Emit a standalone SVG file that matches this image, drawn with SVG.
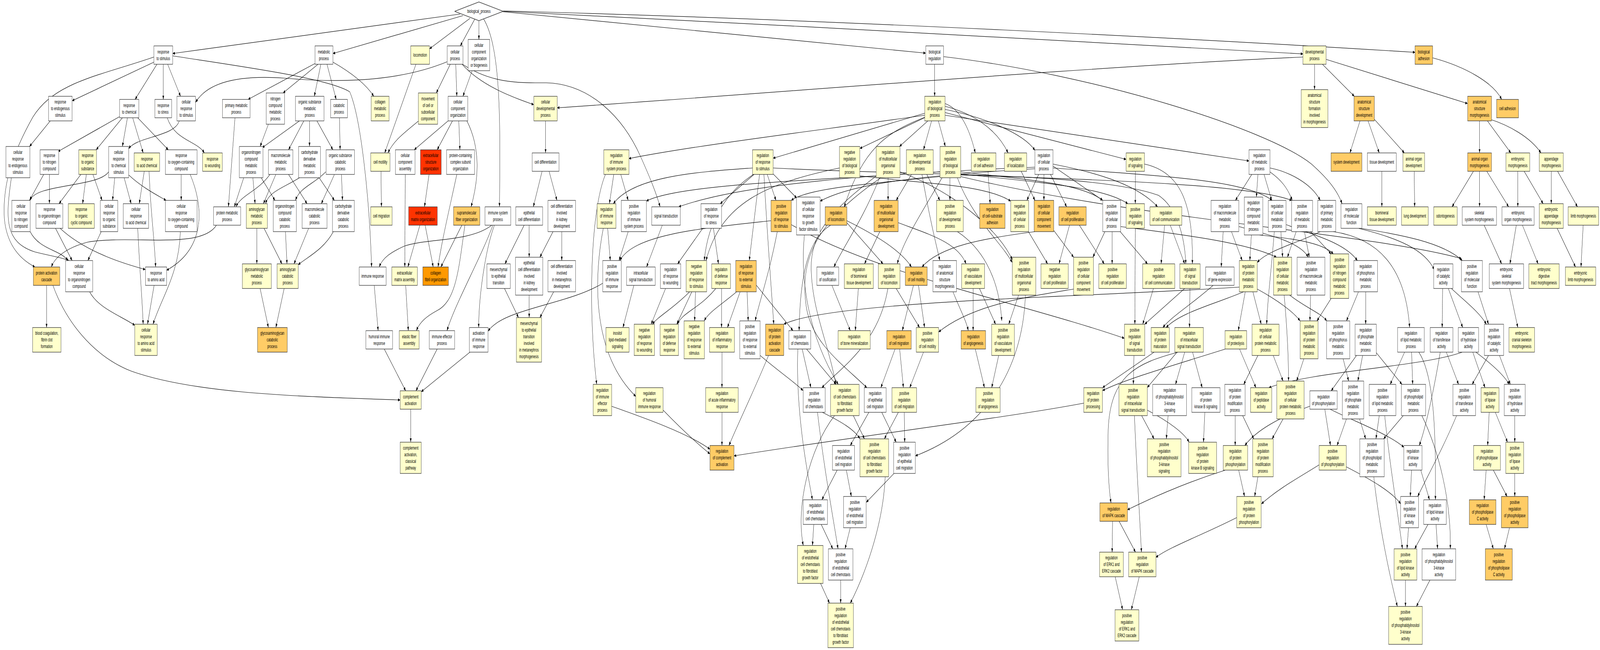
<svg xmlns="http://www.w3.org/2000/svg" width="7320" height="1664" viewBox="0 0 7320 1664" preserveAspectRatio="none">
<defs>
<style>
svg:root{width:100vw;height:100vh;display:block}
.w,.y,.o,.or,.r{stroke:#333;stroke-width:1.3}
.w{fill:#ffffff}.y{fill:#ffffcc}.o{fill:#ffcc66}.or{fill:#ff9900}.r{fill:#ff3300}
text{font-family:"Liberation Sans",Arial,sans-serif;font-size:13px;text-anchor:middle;fill:#000}
#edges path{fill:none;stroke:#000;stroke-width:1.2;marker-end:url(#a)}
</style>
<marker id="a" viewBox="0 0 10 8" refX="10" refY="4" markerWidth="10" markerHeight="8" markerUnits="userSpaceOnUse" orient="auto"><path d="M0,0L10,4L0,8z" fill="#000"/></marker>
</defs>
<rect x="0" y="0" width="7320" height="1664" fill="#fff"/>
<g id="edges">
<path d="M2105,36 L790,137"/>
<path d="M2118,40 L1523,137"/>
<path d="M2150,47 L1965,125"/>
<path d="M2172,49 L2106,117.5"/>
<path d="M2191,53 L2191,101"/>
<path d="M2212,48 C2290,120 2290,300 2285,529.5"/>
<path d="M2300,30 L4235,136"/>
<path d="M2302,29 C3500,60 5000,110 5961,138"/>
<path d="M2302,28 C3800,50 5500,100 6474,134"/>
<path d="M712,157 L330,258"/>
<path d="M718,164.5 L618,254.5"/>
<path d="M747,164.5 L747,254.5"/>
<path d="M767,164.5 L826,246.5"/>
<path d="M704,146 C450,195 250,210 150,300 C60,390 10,470 20,560 C30,620 80,660 160,683.5"/>
<path d="M790,143 C1100,170 1500,200 1600,235 C1650,300 1690,500 1700,683.5"/>
<path d="M1450,160 L1135,254.5"/>
<path d="M1455,164.5 L1295,238"/>
<path d="M1468,164.5 L1438,246.5"/>
<path d="M1496,164.5 L1538,254.5"/>
<path d="M1520,158 C1620,190 1680,220 1710,246.5"/>
<path d="M2046,158 C1800,215 1500,210 1300,200 C1050,190 940,220 895,262"/>
<path d="M230,309.5 L135,375"/>
<path d="M549,298 L265,388"/>
<path d="M560,301.5 L440,383.5"/>
<path d="M583,301.5 L560,375"/>
<path d="M607,301.5 L655,391.5"/>
<path d="M630,301.5 L770,383.5"/>
<path d="M765,301.5 C800,360 900,360 935,391.5"/>
<path d="M820,309.5 C800,350 620,350 589,381"/>
<path d="M200,446.5 L135,513"/>
<path d="M226,446.5 L226,521.5"/>
<path d="M370,446.5 L270,521.5"/>
<path d="M395,446.5 L378,521.5"/>
<path d="M425,446.5 L467,513"/>
<path d="M497,440 C450,480 160,470 138,513"/>
<path d="M525,455 L515,513"/>
<path d="M568,455 L600,521.5"/>
<path d="M589,448 C650,480 720,500 760,513"/>
<path d="M660,438.5 L637,521.5"/>
<path d="M682,438.5 C690,550 705,600 712,683.5"/>
<path d="M829,446.5 L829,513"/>
<path d="M870,446.5 C940,540 930,640 762,692"/>
<path d="M138,593 C180,640 280,640 310,667"/>
<path d="M52,455 C25,560 20,620 160,645 C230,655 290,660 315,667"/>
<path d="M254,584.5 L330,667"/>
<path d="M275,584.5 C400,650 600,680 665,690"/>
<path d="M463,593 L402,667"/>
<path d="M410,747 C450,790 560,810 617,833"/>
<path d="M630,584.5 C640,700 650,760 655,830"/>
<path d="M705,730.5 L675,830"/>
<path d="M825,593 C820,700 740,760 700,830"/>
<path d="M1075,301.5 L1045,529.5"/>
<path d="M1228,318 L1190,375"/>
<path d="M1370,309.5 L1200,378"/>
<path d="M1390,309.5 L1320,383.5"/>
<path d="M1416,309.5 L1416,375"/>
<path d="M1450,309.5 L1523,383.5"/>
<path d="M1553,301.5 L1556,383.5"/>
<path d="M1115,455 L1072,529.5"/>
<path d="M1235,446.5 C1180,490 1100,500 1080,529.5"/>
<path d="M1157,455 L1167,521.5"/>
<path d="M1262,446.5 L1205,521.5"/>
<path d="M1370,455 C1300,480 1230,490 1215,521.5"/>
<path d="M1195,455 L1258,513"/>
<path d="M1320,446.5 L1405,521.5"/>
<path d="M1460,455 L1530,513"/>
<path d="M1490,440 C1440,470 1370,480 1352,513"/>
<path d="M1530,446.5 L1470,521.5"/>
<path d="M1562,446.5 L1567,513"/>
<path d="M990,576.5 C920,640 600,600 400,620 C300,635 250,660 235,683.5"/>
<path d="M1175,584.5 L1175,675.5"/>
<path d="M1208,584.5 L1290,675.5"/>
<path d="M1306,593 L1313,675.5"/>
<path d="M1412,584.5 L1345,675.5"/>
<path d="M1525,593 C1480,640 1400,660 1364,678"/>
<path d="M1190,738.5 L1228,838.5"/>
<path d="M1300,738.5 L1262,838.5"/>
<path d="M213,730.5 L213,838.5"/>
<path d="M242,730.5 C300,820 420,910 600,950 C900,1010 1400,1015 1831,1024"/>
<path d="M1712,730.5 L1730,846.5"/>
<path d="M2250,576.5 C2150,620 1950,610 1850,630 C1790,645 1750,660 1735,683.5"/>
<path d="M1758,893.5 L1856,1000.5"/>
<path d="M2000,893.5 L1903,1000.5"/>
<path d="M2150,901.5 L1927,1003"/>
<path d="M1879,1047.5 L1879,1132"/>
<path d="M1743,438.5 L1745,529.5"/>
<path d="M1903,164.5 L1760,391.5"/>
<path d="M1914,310 C1850,340 1800,360 1775,391.5"/>
<path d="M2060,164.5 L1996,238"/>
<path d="M2085,164.5 L2090,246.5"/>
<path d="M2160,181 L2118,246.5"/>
<path d="M2110,162 C2200,220 2350,250 2442,268"/>
<path d="M2112,163 C2250,215 2380,212 2500,212 C2700,215 2850,300 2930,400 C2970,450 3000,490 3020,529.5"/>
<path d="M2050,309.5 L1895,383.5"/>
<path d="M2070,309.5 L2000,383.5"/>
<path d="M2099,309.5 L2104,383.5"/>
<path d="M2136,309.5 C2200,380 2190,460 2155,529.5"/>
<path d="M1963,446.5 L1942,529.5"/>
<path d="M1854,446.5 L1852,683.5"/>
<path d="M1921,576.5 L1866,683.5"/>
<path d="M1945,576.5 L1982,683.5"/>
<path d="M2113,576.5 L2017,683.5"/>
<path d="M2127,576.5 C2100,680 2090,770 2000,795 C1950,810 1920,825 1905,846.5"/>
<path d="M2090,446.5 C2050,550 2020,620 2004,683.5"/>
<path d="M1856,730.5 L1868,846.5"/>
<path d="M2496,309.5 L2496,391.5"/>
<path d="M5961,146 C5000,170 3500,240 2549,276"/>
<path d="M2480,438.5 L2440,529.5"/>
<path d="M2512,438.5 L2548,513"/>
<path d="M2398,576.5 L2310,675.5"/>
<path d="M2421,576.5 L2421,658.5"/>
<path d="M2530,593 L2470,658.5"/>
<path d="M2570,593 L2570,667"/>
<path d="M2308,738.5 L2372,813"/>
<path d="M2421,755.5 L2421,813"/>
<path d="M2533,747 L2470,813"/>
<path d="M2255,576.5 C2200,660 2080,780 2045,846.5"/>
<path d="M2262,576.5 C2220,640 2190,760 2190,838.5"/>
<path d="M2808,446.5 L2788,521.5"/>
<path d="M2840,446.5 L2874,513"/>
<path d="M2770,446.5 C2700,540 2690,800 2730,984"/>
<path d="M2780,584.5 L2792,667"/>
<path d="M2760,584.5 C2720,700 2700,900 2909,1015"/>
<path d="M2874,593 L2832,667"/>
<path d="M2758,725 C2600,780 2300,790 2233,848"/>
<path d="M3443,430 C3200,440 2900,450 2806,521.5"/>
<path d="M3527,565 C3200,585 2900,600 2836,667"/>
<path d="M2900,730.5 L2850,838.5"/>
<path d="M3030,576.5 L2958,683.5"/>
<path d="M2798,1040 C2950,1070 3150,1110 3248,1150"/>
<path d="M3034,1050 C3120,1100 3200,1140 3248,1162"/>
<path d="M3303,1055.5 L3303,1140.5"/>
<path d="M3516,910 C3450,1000 3380,1080 3335,1140.5"/>
<path d="M4959,1032 C4600,1070 4000,1110 3358,1167"/>
<path d="M4276,164.5 L4276,246.5"/>
<path d="M4317,145 C5000,190 5800,330 6000,420 C6080,460 6120,490 6140,521.5"/>
<path d="M4230,290 L3537,405"/>
<path d="M4235,300 L3934,380"/>
<path d="M4245,309.5 L4115,375"/>
<path d="M4262,309.5 L4225,383.5"/>
<path d="M4293,309.5 L4325,375"/>
<path d="M4230,295 C3800,330 3200,370 2877,406"/>
<path d="M4232,300 C4050,340 3950,380 3862,529.5"/>
<path d="M4323,265 C4400,280 4440,340 4462,391.5"/>
<path d="M4323,272 C4450,290 4560,330 4612,391.5"/>
<path d="M4323,280 C4500,300 4680,340 4735,385"/>
<path d="M4323,288 L5152,408"/>
<path d="M4323,295 L5714,412"/>
<path d="M3450,446.5 L3295,521.5"/>
<path d="M3510,446.5 L3550,513"/>
<path d="M3535,444 L3645,507"/>
<path d="M3447,446.5 C3330,490 3240,560 3222,667"/>
<path d="M3475,446.5 L3428,667"/>
<path d="M3495,446.5 C3510,600 3530,750 3540,830"/>
<path d="M3537,430 C4200,450 5000,440 5300,500 C5380,530 5420,600 5425,675.5"/>
<path d="M3841,430 C3500,470 3300,520 3230,667"/>
<path d="M3934,450 C4200,470 4500,470 4624,515"/>
<path d="M4395,440 C4700,460 4950,470 5045,513"/>
<path d="M4395,445 C4800,470 5050,480 5160,521.5"/>
<path d="M4300,452 C4000,470 3700,480 3620,513"/>
<path d="M4310,455 C4200,560 4130,620 4105,675.5"/>
<path d="M4346,455 L4346,513"/>
<path d="M4300,440 C3800,460 3100,470 2957,515"/>
<path d="M4380,455 C4450,560 4580,620 4631,672"/>
<path d="M4395,448 C5000,460 5700,470 5910,513"/>
<path d="M4395,452 C5200,560 6300,600 6686,662"/>
<path d="M4063,455 L4063,513"/>
<path d="M4118,440 C4400,500 4580,600 4631,665"/>
<path d="M4170,446.5 L4100,513"/>
<path d="M4240,446.5 L4300,513"/>
<path d="M4218,446.5 C4250,550 4280,620 4300,667"/>
<path d="M3556,593 C3520,700 3470,780 3455,821.5"/>
<path d="M3620,575 C4000,700 4700,780 5144,866"/>
<path d="M3800,576.5 C3700,610 3660,700 3656,846.5"/>
<path d="M3874,570 L4040,675.5"/>
<path d="M3874,565 C4000,600 4120,640 4170,683.5"/>
<path d="M4024,455 C3950,560 3860,630 3815,683.5"/>
<path d="M4025,593 L3955,675.5"/>
<path d="M4109,570 C4250,600 4380,620 4420,675.5"/>
<path d="M4360,747 C4390,790 4420,820 4430,846.5"/>
<path d="M3806,730.5 L3890,846.5"/>
<path d="M3927,738.5 L3913,846.5"/>
<path d="M4179,730.5 L4128,846.5"/>
<path d="M4202,730.5 L4230,838.5"/>
<path d="M4100,738.5 L4207,838.5"/>
<path d="M4062,738.5 C4020,880 3850,940 3760,992.5"/>
<path d="M4735,593 C4500,610 4300,630 4218,683.5"/>
<path d="M4912,740 C4700,760 4450,780 4294,850"/>
<path d="M4380,593 C4480,630 4570,700 4583,821.5"/>
<path d="M3370,747 C3300,780 3240,800 3222,821.5"/>
<path d="M3386,747 L3328,838.5"/>
<path d="M3418,747 L3423,821.5"/>
<path d="M3460,730 L3628,846.5"/>
<path d="M3215,584.5 L3100,675.5"/>
<path d="M3264,584.5 L3287,675.5"/>
<path d="M3155,747 C3080,790 3010,810 2985,830"/>
<path d="M3165,747 L3096,830"/>
<path d="M3182,747 L3178,821.5"/>
<path d="M3045,738.5 L2979,830"/>
<path d="M3275,738.5 C3200,790 3120,800 3100,830"/>
<path d="M3301,738.5 L3301,838.5"/>
<path d="M3303,901.5 L3303,992.5"/>
<path d="M3670,893.5 L3710,992.5"/>
<path d="M3478,910 C3560,950 3640,980 3674,1000"/>
<path d="M3690,893.5 L3825,984"/>
<path d="M3680,601 C3660,720 3700,860 3835,984"/>
<path d="M4030,455 C3760,560 3650,650 3690,790 C3720,880 3850,930 3966,992.5"/>
<path d="M4010,450 C3800,540 3700,600 3712,700 C3720,800 3790,880 3824,984"/>
<path d="M4095,893.5 L4030,992.5"/>
<path d="M4116,893.5 L4133,992.5"/>
<path d="M4225,901.5 L4162,992.5"/>
<path d="M3975,1055.5 L3890,1140.5"/>
<path d="M3904,1064 L3955,1123.5"/>
<path d="M3762,1055.5 C3850,1080 3910,1100 3934,1123.5"/>
<path d="M4110,1055.5 L4046,1123.5"/>
<path d="M4034,1055.5 L4100,1132"/>
<path d="M4137,1055.5 L4139,1132"/>
<path d="M4691,755.5 C4680,950 4500,1100 4188,1167"/>
<path d="M3830,1203.5 L3760,1279.5"/>
<path d="M3650,893.5 C3640,1050 3690,1200 3717,1279.5"/>
<path d="M3872,1203.5 L3895,1271"/>
<path d="M4090,1212 L3963,1286"/>
<path d="M3723,1342.5 L3717,1396.5"/>
<path d="M3818,1064 C3700,1150 3640,1300 3675,1396.5"/>
<path d="M3757,1342.5 L3810,1405"/>
<path d="M3740,1055.5 C3770,1200 3810,1320 3834,1405"/>
<path d="M3890,1351 L3866,1405"/>
<path d="M3754,1493.5 L3795,1544"/>
<path d="M3846,1485 L3846,1544"/>
<path d="M4050,1220.5 C4040,1350 3950,1480 3890,1544"/>
<path d="M4520,438.5 L4530,521.5"/>
<path d="M4752,446.5 L4698,513"/>
<path d="M4776,446.5 L4776,513"/>
<path d="M4672,438.5 L4735,513"/>
<path d="M4806,446.5 L4880,529.5"/>
<path d="M4817,425 L5045,513"/>
<path d="M4817,420 C5000,440 5200,470 5296,529.5"/>
<path d="M4734,428 C4000,445 3400,470 3105,529.5"/>
<path d="M4817,430 C5300,450 5700,460 5820,513"/>
<path d="M4734,432 C4200,450 3900,470 3752,515"/>
<path d="M5194,438.5 L5194,521.5"/>
<path d="M5236,420 C5400,440 5460,520 5455,675.5"/>
<path d="M5727,446.5 L5652,513"/>
<path d="M5755,446.5 L5748,504.5"/>
<path d="M5783,446.5 L5818,513"/>
<path d="M5810,440 C5860,460 5890,480 5912,513"/>
<path d="M5810,430 C5900,440 6000,470 6040,513"/>
<path d="M5884,575 C6000,600 6150,620 6210,667"/>
<path d="M5328,576.5 L5312,675.5"/>
<path d="M5354,576.5 L5420,675.5"/>
<path d="M5125,593 L5250,675.5"/>
<path d="M5088,593 L5088,675.5"/>
<path d="M5055,593 L5000,658.5"/>
<path d="M5127,580 C5400,600 5700,620 5840,658.5"/>
<path d="M4893,576.5 L4845,675.5"/>
<path d="M4938,576.5 L5052,675.5"/>
<path d="M4705,593 L4793,675.5"/>
<path d="M4821,590 L4912,658.5"/>
<path d="M5596,593 L5587,683.5"/>
<path d="M5634,593 L5683,667"/>
<path d="M5725,601.5 L5718,667"/>
<path d="M6040,593 C5950,620 5800,640 5752,672"/>
<path d="M5668,580 C5800,600 5950,620 5985,658.5"/>
<path d="M5860,593 L5868,658.5"/>
<path d="M5930,593 L5890,658.5"/>
<path d="M5968,593 L5990,658.5"/>
<path d="M5996,593 L6090,650"/>
<path d="M5760,601.5 C5900,610 6050,620 6100,650"/>
<path d="M6100,593 C6300,610 6430,680 6449,838.5"/>
<path d="M6215,584.5 C6400,610 6520,640 6562,691"/>
<path d="M6225,584.5 C6400,600 6600,620 6690,667"/>
<path d="M5830,593 C5815,700 5800,760 5795,830"/>
<path d="M5690,747 C5550,780 5400,800 5335,838.5"/>
<path d="M5550,730.5 C5450,780 5360,810 5320,838.5"/>
<path d="M5444,738.5 L5442,838.5"/>
<path d="M5420,738.5 L5237,830"/>
<path d="M5194,584.5 L5192,830"/>
<path d="M5277,738.5 L5228,830"/>
<path d="M5697,747 L5665,846.5"/>
<path d="M5732,747 L5770,830"/>
<path d="M5670,735 C5000,760 3800,770 3586,830"/>
<path d="M5752,740 C5850,770 5920,800 5948,821.5"/>
<path d="M4452,738.5 L4452,846.5"/>
<path d="M4481,738.5 L4555,830"/>
<path d="M4660,755.5 L4615,830"/>
<path d="M4462,893.5 L4504,992.5"/>
<path d="M4569,910 L4537,992.5"/>
<path d="M5280,901.5 L5044,992.5"/>
<path d="M5606,893.5 C5400,930 5150,970 5044,1000"/>
<path d="M5385,901.5 L5249,992"/>
<path d="M5188,910 L5185,984"/>
<path d="M5420,901.5 L5378,984"/>
<path d="M5456,901.5 L5500,992.5"/>
<path d="M5755,910 L5690,984"/>
<path d="M5671,893.5 L5746,992.5"/>
<path d="M6690,901.5 C6500,940 6000,950 5805,992.5"/>
<path d="M5825,910 L5870,975.5"/>
<path d="M5965,918.5 L5932,975.5"/>
<path d="M5875,755.5 C5890,850 5895,920 5895,975.5"/>
<path d="M5344,1064 L5336,1123.5"/>
<path d="M5223,1064 L5280,1123.5"/>
<path d="M5512,1055.5 L5506,1132"/>
<path d="M5249,1050 C5350,1080 5420,1110 5440,1132"/>
<path d="M5651,1064 L5651,1140.5"/>
<path d="M5992,1040 C5850,1070 5750,1100 5695,1140.5"/>
<path d="M5685,1064 L5736,1123.5"/>
<path d="M5870,1072.5 L5820,1123.5"/>
<path d="M5606,1203.5 C5400,1240 5250,1280 5158,1305"/>
<path d="M5390,901.5 C5200,930 5080,960 5070,1100 C5065,1200 5075,1260 5083,1287.5"/>
<path d="M5667,1203.5 L5694,1271"/>
<path d="M5755,1220.5 L5740,1271"/>
<path d="M6035,1190 C5950,1220 5850,1250 5771,1290"/>
<path d="M5090,1334.5 L5088,1413.5"/>
<path d="M5120,1334.5 L5195,1413.5"/>
<path d="M5190,1064 C5200,1200 5215,1330 5222,1413.5"/>
<path d="M5658,1325 C5500,1370 5350,1400 5288,1427"/>
<path d="M5102,1476.5 L5136,1561"/>
<path d="M5212,1476.5 L5176,1561"/>
<path d="M6014,164.5 L6014,229.5"/>
<path d="M6050,164.5 L6196,246.5"/>
<path d="M6067,152 L6714,265"/>
<path d="M6554,148 C6700,170 6830,210 6870,254.5"/>
<path d="M6222,309.5 L6176,391.5"/>
<path d="M6259,309.5 L6310,391.5"/>
<path d="M6287,305 L6425,391.5"/>
<path d="M6769,309.5 L6769,391.5"/>
<path d="M6805,309.5 L6912,391.5"/>
<path d="M6815,305 C6900,320 7000,350 7050,391.5"/>
<path d="M6322,438.5 L6322,529.5"/>
<path d="M6470,438.5 L6472,529.5"/>
<path d="M6741,438.5 L6643,529.5"/>
<path d="M6769,438.5 L6769,529.5"/>
<path d="M6802,438.5 L6902,529.5"/>
<path d="M6944,438.5 L6944,529.5"/>
<path d="M6973,438.5 L7060,521.5"/>
<path d="M7097,438.5 L7097,521.5"/>
<path d="M7126,438.5 L7217,529.5"/>
<path d="M6790,576.5 L6870,675.5"/>
<path d="M6937,576.5 L6908,675.5"/>
<path d="M6965,576.5 L7037,675.5"/>
<path d="M7124,584.5 L7208,683.5"/>
<path d="M7243,576.5 L7233,683.5"/>
<path d="M6906,738.5 L6944,838.5"/>
<path d="M5900,755.5 C5980,790 6040,800 6070,821.5"/>
<path d="M5996,755.5 L5993,821.5"/>
<path d="M6090,764 L6025,821.5"/>
<path d="M6215,747 L6160,821.5"/>
<path d="M6248,747 L6248,830"/>
<path d="M6600,738.5 L6598,838.5"/>
<path d="M6626,738.5 L6692,838.5"/>
<path d="M6640,738.5 C6700,770 6770,800 6800,830"/>
<path d="M6762,747 L6810,830"/>
<path d="M6145,918.5 L6170,975.5"/>
<path d="M6234,910 L6212,975.5"/>
<path d="M6206,910 L6090,1000.5"/>
<path d="M6295,902 L6414,984"/>
<path d="M6426,901.5 L6360,984"/>
<path d="M6458,901.5 L6463,984"/>
<path d="M6491,901.5 C6560,960 6570,1100 6567,1279.5"/>
<path d="M6617,901.5 L6673,984"/>
<path d="M6589,901.5 C6560,1000 6520,1100 6493,1140.5"/>
<path d="M6752,901.5 C6820,930 6880,960 6905,984"/>
<path d="M6738,901.5 L6794,992.5"/>
<path d="M6810,910 L6735,984"/>
<path d="M6860,910 L6910,984"/>
<path d="M6420,1064 L6330,1123.5"/>
<path d="M6310,1064 L6295,1123.5"/>
<path d="M6220,1072.5 L6248,1123.5"/>
<path d="M6335,1064 C6360,1200 6400,1330 6416,1405"/>
<path d="M6505,1064 C6580,1150 6640,1280 6635,1405"/>
<path d="M6061,1047.5 L6087,1140.5"/>
<path d="M6085,1047.5 C6200,1080 6350,1110 6423,1145"/>
<path d="M6160,1072.5 L6117,1140.5"/>
<path d="M6664,1064 C6600,1150 6520,1230 6486,1271"/>
<path d="M6813,1055.5 L6806,1140.5"/>
<path d="M6841,1055.5 L6897,1132"/>
<path d="M6930,1064 L6930,1132"/>
<path d="M6159,1195 C6280,1230 6370,1260 6408,1290"/>
<path d="M6458,1203.5 L6452,1271"/>
<path d="M6500,1203.5 L6540,1279.5"/>
<path d="M6799,1203.5 L6790,1279.5"/>
<path d="M6832,1203.5 L6895,1271"/>
<path d="M6930,1212 L6930,1271"/>
<path d="M6444,1351 L6437,1405"/>
<path d="M6533,1342.5 L6472,1405"/>
<path d="M6570,1342.5 L6577,1405"/>
<path d="M6799,1342.5 L6832,1405"/>
<path d="M6906,1351 L6883,1405"/>
<path d="M6430,1485 L6430,1552.5"/>
<path d="M6542,1485 L6480,1552.5"/>
<path d="M6285,1220.5 C6310,1350 6360,1480 6393,1552.5"/>
</g>
<g id="root"><polygon points="2080,29 2191,5 2302,29 2191,53" fill="#fff" stroke="#333" stroke-width="1.3"/><text x="2191" y="33.5">biological_process</text></g>
<g id="rs"><rect class="w" x="704" y="117.5" width="86" height="47"/><text x="747" y="137">response<tspan x="747" dy="17">to stimulus</tspan></text></g>
<g id="mp"><rect class="w" x="1441" y="117.5" width="82" height="47"/><text x="1482" y="137">metabolic<tspan x="1482" dy="17">process</tspan></text></g>
<g id="loc"><rect class="y" x="1879" y="117.5" width="86" height="47"/><text x="1922" y="145.5">locomotion</text></g>
<g id="cp"><rect class="w" x="2046" y="117.5" width="72" height="47"/><text x="2082" y="137">cellular<tspan x="2082" dy="17">process</tspan></text></g>
<g id="ccob"><rect class="w" x="2141.5" y="101" width="99" height="80"/><text x="2191" y="120">cellular<tspan x="2191" dy="17">component</tspan><tspan x="2191" dy="17">organization</tspan><tspan x="2191" dy="17">or biogenesis</tspan></text></g>
<g id="br"><rect class="w" x="4235.5" y="117.5" width="81" height="47"/><text x="4276" y="137">biological<tspan x="4276" dy="17">regulation</tspan></text></g>
<g id="dp"><rect class="y" x="5961" y="117.5" width="106" height="47"/><text x="6014" y="137">developmental<tspan x="6014" dy="17">process</tspan></text></g>
<g id="ba"><rect class="o" x="6474" y="117.5" width="80" height="47"/><text x="6514" y="137">biological<tspan x="6514" dy="17">adhesion</tspan></text></g>
<g id="rtes"><rect class="w" x="222" y="246.5" width="108" height="63"/><text x="276" y="265.5">response<tspan x="276" dy="17">to endogenous</tspan><tspan x="276" dy="17">stimulus</tspan></text></g>
<g id="rtc"><rect class="w" x="547" y="254.5" width="88" height="47"/><text x="591" y="274">response<tspan x="591" dy="17">to chemical</tspan></text></g>
<g id="rtst"><rect class="w" x="708.5" y="254.5" width="77" height="47"/><text x="747" y="274">response<tspan x="747" dy="17">to stress</tspan></text></g>
<g id="crts"><rect class="w" x="809.5" y="246.5" width="85" height="63"/><text x="852" y="265.5">cellular<tspan x="852" dy="17">response</tspan><tspan x="852" dy="17">to stimulus</tspan></text></g>
<g id="pmp"><rect class="w" x="1018" y="254.5" width="126" height="47"/><text x="1081" y="274">primary metabolic<tspan x="1081" dy="17">process</tspan></text></g>
<g id="ncmp"><rect class="w" x="1218" y="238" width="84" height="80"/><text x="1260" y="257">nitrogen<tspan x="1260" dy="17">compound</tspan><tspan x="1260" dy="17">metabolic</tspan><tspan x="1260" dy="17">process</tspan></text></g>
<g id="osmp"><rect class="w" x="1351.5" y="246.5" width="131" height="63"/><text x="1417" y="265.5">organic substance<tspan x="1417" dy="17">metabolic</tspan><tspan x="1417" dy="17">process</tspan></text></g>
<g id="catp"><rect class="w" x="1512.5" y="254.5" width="77" height="47"/><text x="1551" y="274">catabolic<tspan x="1551" dy="17">process</tspan></text></g>
<g id="colmp"><rect class="y" x="1698" y="246.5" width="82" height="63"/><text x="1739" y="265.5">collagen<tspan x="1739" dy="17">metabolic</tspan><tspan x="1739" dy="17">process</tspan></text></g>
<g id="mcsc"><rect class="y" x="1914" y="238" width="88" height="80"/><text x="1958" y="257">movement<tspan x="1958" dy="17">of cell or</tspan><tspan x="1958" dy="17">subcellular</tspan><tspan x="1958" dy="17">component</tspan></text></g>
<g id="cco"><rect class="w" x="2050" y="246.5" width="90" height="63"/><text x="2095" y="265.5">cellular<tspan x="2095" dy="17">component</tspan><tspan x="2095" dy="17">organization</tspan></text></g>
<g id="cdp"><rect class="y" x="2442.5" y="246.5" width="107" height="63"/><text x="2496" y="265.5">cellular<tspan x="2496" dy="17">developmental</tspan><tspan x="2496" dy="17">process</tspan></text></g>
<g id="rbp"><rect class="y" x="4230.5" y="246.5" width="93" height="63"/><text x="4277" y="265.5">regulation<tspan x="4277" dy="17">of biological</tspan><tspan x="4277" dy="17">process</tspan></text></g>
<g id="asfim"><rect class="y" x="5953" y="229.5" width="122" height="97"/><text x="6014" y="248.5">anatomical<tspan x="6014" dy="17">structure</tspan><tspan x="6014" dy="17">formation</tspan><tspan x="6014" dy="17">involved</tspan><tspan x="6014" dy="17">in morphogenesis</tspan></text></g>
<g id="asd"><rect class="o" x="6194.5" y="246.5" width="93" height="63"/><text x="6241" y="265.5">anatomical<tspan x="6241" dy="17">structure</tspan><tspan x="6241" dy="17">development</tspan></text></g>
<g id="asm"><rect class="o" x="6714.5" y="246.5" width="109" height="63"/><text x="6769" y="265.5">anatomical<tspan x="6769" dy="17">structure</tspan><tspan x="6769" dy="17">morphogenesis</tspan></text></g>
<g id="cadh"><rect class="o" x="6847" y="254.5" width="100" height="47"/><text x="6897" y="282.5">cell adhesion</text></g>
<g id="crtes"><rect class="w" x="27" y="375" width="110" height="80"/><text x="82" y="394">cellular<tspan x="82" dy="17">response</tspan><tspan x="82" dy="17">to endogenous</tspan><tspan x="82" dy="17">stimulus</tspan></text></g>
<g id="rtnc"><rect class="w" x="183.5" y="383.5" width="85" height="63"/><text x="226" y="402.5">response<tspan x="226" dy="17">to nitrogen</tspan><tspan x="226" dy="17">compound</tspan></text></g>
<g id="rtos"><rect class="y" x="360.5" y="383.5" width="81" height="63"/><text x="401" y="402.5">response<tspan x="401" dy="17">to organic</tspan><tspan x="401" dy="17">substance</tspan></text></g>
<g id="crtcs"><rect class="w" x="497" y="375" width="92" height="80"/><text x="543" y="394">cellular<tspan x="543" dy="17">response</tspan><tspan x="543" dy="17">to chemical</tspan><tspan x="543" dy="17">stimulus</tspan></text></g>
<g id="rtac"><rect class="y" x="613.5" y="391.5" width="117" height="47"/><text x="672" y="411">response<tspan x="672" dy="17">to acid chemical</tspan></text></g>
<g id="rtocc"><rect class="w" x="756.5" y="383.5" width="145" height="63"/><text x="829" y="402.5">response<tspan x="829" dy="17">to oxygen-containing</tspan><tspan x="829" dy="17">compound</tspan></text></g>
<g id="rtw"><rect class="y" x="927" y="391.5" width="90" height="47"/><text x="972" y="411">response<tspan x="972" dy="17">to wounding</tspan></text></g>
<g id="oncmp"><rect class="w" x="1095" y="375" width="108" height="80"/><text x="1149" y="394">organonitrogen<tspan x="1149" dy="17">compound</tspan><tspan x="1149" dy="17">metabolic</tspan><tspan x="1149" dy="17">process</tspan></text></g>
<g id="mmp"><rect class="w" x="1228" y="383.5" width="112" height="63"/><text x="1284" y="402.5">macromolecule<tspan x="1284" dy="17">metabolic</tspan><tspan x="1284" dy="17">process</tspan></text></g>
<g id="cdmp"><rect class="w" x="1366" y="375" width="100" height="80"/><text x="1416" y="394">carbohydrate<tspan x="1416" dy="17">derivative</tspan><tspan x="1416" dy="17">metabolic</tspan><tspan x="1416" dy="17">process</tspan></text></g>
<g id="oscp"><rect class="w" x="1492" y="383.5" width="130" height="63"/><text x="1557" y="402.5">organic substance<tspan x="1557" dy="17">catabolic</tspan><tspan x="1557" dy="17">process</tspan></text></g>
<g id="cmot"><rect class="y" x="1696" y="391.5" width="88" height="47"/><text x="1740" y="419.5">cell motility</text></g>
<g id="cca"><rect class="w" x="1809" y="383.5" width="90" height="63"/><text x="1854" y="402.5">cellular<tspan x="1854" dy="17">component</tspan><tspan x="1854" dy="17">assembly</tspan></text></g>
<g id="eso"><rect class="r" x="1923.5" y="383.5" width="95" height="63"/><text x="1971" y="402.5">extracellular<tspan x="1971" dy="17">structure</tspan><tspan x="1971" dy="17">organization</tspan></text></g>
<g id="pcso"><rect class="w" x="2043" y="383.5" width="128" height="63"/><text x="2107" y="402.5">protein-containing<tspan x="2107" dy="17">complex subunit</tspan><tspan x="2107" dy="17">organization</tspan></text></g>
<g id="cdiff"><rect class="w" x="2434.5" y="391.5" width="123" height="47"/><text x="2496" y="419.5">cell differentiation</text></g>
<g id="rism"><rect class="y" x="2762.5" y="383.5" width="115" height="63"/><text x="2820" y="402.5">regulation<tspan x="2820" dy="17">of immune</tspan><tspan x="2820" dy="17">system process</tspan></text></g>
<g id="rrs"><rect class="y" x="3443" y="383.5" width="94" height="63"/><text x="3490" y="402.5">regulation<tspan x="3490" dy="17">of response</tspan><tspan x="3490" dy="17">to stimulus</tspan></text></g>
<g id="nrbp"><rect class="y" x="3840.5" y="375" width="93" height="80"/><text x="3887" y="394">negative<tspan x="3887" dy="17">regulation</tspan><tspan x="3887" dy="17">of biological</tspan><tspan x="3887" dy="17">process</tspan></text></g>
<g id="rmop"><rect class="y" x="4008.5" y="375" width="109" height="80"/><text x="4063" y="394">regulation<tspan x="4063" dy="17">of multicellular</tspan><tspan x="4063" dy="17">organismal</tspan><tspan x="4063" dy="17">process</tspan></text></g>
<g id="rdp"><rect class="y" x="4146.5" y="383.5" width="123" height="63"/><text x="4208" y="402.5">regulation<tspan x="4208" dy="17">of developmental</tspan><tspan x="4208" dy="17">process</tspan></text></g>
<g id="prbp"><rect class="y" x="4300.5" y="375" width="95" height="80"/><text x="4348" y="394">positive<tspan x="4348" dy="17">regulation</tspan><tspan x="4348" dy="17">of biological</tspan><tspan x="4348" dy="17">process</tspan></text></g>
<g id="rca"><rect class="y" x="4443.5" y="391.5" width="113" height="47"/><text x="4500" y="411">regulation<tspan x="4500" dy="17">of cell adhesion</tspan></text></g>
<g id="rloc"><rect class="y" x="4595" y="391.5" width="102" height="47"/><text x="4646" y="411">regulation<tspan x="4646" dy="17">of localization</tspan></text></g>
<g id="rcp"><rect class="w" x="4734.5" y="383.5" width="83" height="63"/><text x="4776" y="402.5">regulation<tspan x="4776" dy="17">of cellular</tspan><tspan x="4776" dy="17">process</tspan></text></g>
<g id="rsig"><rect class="y" x="5152" y="391.5" width="84" height="47"/><text x="5194" y="411">regulation<tspan x="5194" dy="17">of signaling</tspan></text></g>
<g id="rmp"><rect class="w" x="5714" y="383.5" width="96" height="63"/><text x="5762" y="402.5">regulation<tspan x="5762" dy="17">of metabolic</tspan><tspan x="5762" dy="17">process</tspan></text></g>
<g id="sysd"><rect class="o" x="6089.5" y="391.5" width="141" height="47"/><text x="6160" y="419.5">system development</text></g>
<g id="tisd"><rect class="w" x="6256" y="391.5" width="132" height="47"/><text x="6322" y="419.5">tissue development</text></g>
<g id="aod"><rect class="y" x="6418.5" y="391.5" width="99" height="47"/><text x="6468" y="411">animal organ<tspan x="6468" dy="17">development</tspan></text></g>
<g id="aom"><rect class="o" x="6714.5" y="391.5" width="109" height="47"/><text x="6769" y="411">animal organ<tspan x="6769" dy="17">morphogenesis</tspan></text></g>
<g id="embm"><rect class="y" x="6889.5" y="391.5" width="109" height="47"/><text x="6944" y="411">embryonic<tspan x="6944" dy="17">morphogenesis</tspan></text></g>
<g id="appm"><rect class="y" x="7042" y="391.5" width="110" height="47"/><text x="7097" y="411">appendage<tspan x="7097" dy="17">morphogenesis</tspan></text></g>
<g id="crtnc"><rect class="w" x="54" y="513" width="84" height="80"/><text x="96" y="532">cellular<tspan x="96" dy="17">response</tspan><tspan x="96" dy="17">to nitrogen</tspan><tspan x="96" dy="17">compound</tspan></text></g>
<g id="rtonc"><rect class="w" x="164.5" y="521.5" width="123" height="63"/><text x="226" y="540.5">response<tspan x="226" dy="17">to organonitrogen</tspan><tspan x="226" dy="17">compound</tspan></text></g>
<g id="rtocyc"><rect class="y" x="312.5" y="521.5" width="119" height="63"/><text x="372" y="540.5">response<tspan x="372" dy="17">to organic</tspan><tspan x="372" dy="17">cyclic compound</tspan></text></g>
<g id="crtos"><rect class="w" x="459" y="513" width="80" height="80"/><text x="499" y="532">cellular<tspan x="499" dy="17">response</tspan><tspan x="499" dy="17">to organic</tspan><tspan x="499" dy="17">substance</tspan></text></g>
<g id="crtac"><rect class="w" x="564" y="521.5" width="116" height="63"/><text x="622" y="540.5">cellular<tspan x="622" dy="17">response</tspan><tspan x="622" dy="17">to acid chemical</tspan></text></g>
<g id="crtocc"><rect class="w" x="756.5" y="513" width="145" height="80"/><text x="829" y="532">cellular<tspan x="829" dy="17">response</tspan><tspan x="829" dy="17">to oxygen-containing</tspan><tspan x="829" dy="17">compound</tspan></text></g>
<g id="protmp"><rect class="w" x="977" y="529.5" width="124" height="47"/><text x="1039" y="549">protein metabolic<tspan x="1039" dy="17">process</tspan></text></g>
<g id="agmp"><rect class="y" x="1127" y="521.5" width="96" height="63"/><text x="1175" y="540.5">aminoglycan<tspan x="1175" dy="17">metabolic</tspan><tspan x="1175" dy="17">process</tspan></text></g>
<g id="onccp"><rect class="w" x="1250" y="513" width="106" height="80"/><text x="1303" y="532">organonitrogen<tspan x="1303" dy="17">compound</tspan><tspan x="1303" dy="17">catabolic</tspan><tspan x="1303" dy="17">process</tspan></text></g>
<g id="mcp"><rect class="w" x="1382" y="521.5" width="114" height="63"/><text x="1439" y="540.5">macromolecule<tspan x="1439" dy="17">catabolic</tspan><tspan x="1439" dy="17">process</tspan></text></g>
<g id="cdcp"><rect class="w" x="1521" y="513" width="100" height="80"/><text x="1571" y="532">carbohydrate<tspan x="1571" dy="17">derivative</tspan><tspan x="1571" dy="17">catabolic</tspan><tspan x="1571" dy="17">process</tspan></text></g>
<g id="cmig"><rect class="y" x="1696" y="529.5" width="98" height="47"/><text x="1745" y="557.5">cell migration</text></g>
<g id="emo"><rect class="r" x="1869.5" y="529.5" width="131" height="47"/><text x="1935" y="549">extracellular<tspan x="1935" dy="17">matrix organization</tspan></text></g>
<g id="sfo"><rect class="o" x="2075" y="529.5" width="120" height="47"/><text x="2135" y="549">supramolecular<tspan x="2135" dy="17">fiber organization</tspan></text></g>
<g id="isp"><rect class="w" x="2219" y="529.5" width="118" height="47"/><text x="2278" y="549">immune system<tspan x="2278" dy="17">process</tspan></text></g>
<g id="ecd"><rect class="w" x="2359.5" y="529.5" width="123" height="47"/><text x="2421" y="549">epithelial<tspan x="2421" dy="17">cell differentiation</tspan></text></g>
<g id="cdikd"><rect class="w" x="2507" y="513" width="126" height="80"/><text x="2570" y="532">cell differentiation<tspan x="2570" dy="17">involved</tspan><tspan x="2570" dy="17">in kidney</tspan><tspan x="2570" dy="17">development</tspan></text></g>
<g id="rir"><rect class="y" x="2732" y="521.5" width="86" height="63"/><text x="2775" y="540.5">regulation<tspan x="2775" dy="17">of immune</tspan><tspan x="2775" dy="17">response</tspan></text></g>
<g id="prism"><rect class="w" x="2842.5" y="513" width="115" height="80"/><text x="2900" y="532">positive<tspan x="2900" dy="17">regulation</tspan><tspan x="2900" dy="17">of immune</tspan><tspan x="2900" dy="17">system process</tspan></text></g>
<g id="st"><rect class="w" x="2981.5" y="529.5" width="131" height="47"/><text x="3047" y="557.5">signal transduction</text></g>
<g id="rrst"><rect class="w" x="3207" y="521.5" width="94" height="63"/><text x="3254" y="540.5">regulation<tspan x="3254" dy="17">of response</tspan><tspan x="3254" dy="17">to stress</tspan></text></g>
<g id="prrs"><rect class="o" x="3527.5" y="513" width="93" height="80"/><text x="3574" y="532">positive<tspan x="3574" dy="17">regulation</tspan><tspan x="3574" dy="17">of response</tspan><tspan x="3574" dy="17">to stimulus</tspan></text></g>
<g id="rcrgf"><rect class="w" x="3644" y="504.5" width="108" height="97"/><text x="3698" y="523.5">regulation<tspan x="3698" dy="17">of cellular</tspan><tspan x="3698" dy="17">response</tspan><tspan x="3698" dy="17">to growth</tspan><tspan x="3698" dy="17">factor stimulus</tspan></text></g>
<g id="rlocom"><rect class="o" x="3775.5" y="529.5" width="99" height="47"/><text x="3825" y="549">regulation<tspan x="3825" dy="17">of locomotion</tspan></text></g>
<g id="rmod"><rect class="o" x="3999" y="513" width="110" height="80"/><text x="4054" y="532">regulation<tspan x="4054" dy="17">of multicellular</tspan><tspan x="4054" dy="17">organismal</tspan><tspan x="4054" dy="17">development</tspan></text></g>
<g id="prdp"><rect class="y" x="4285" y="513" width="122" height="80"/><text x="4346" y="532">positive<tspan x="4346" dy="17">regulation</tspan><tspan x="4346" dy="17">of developmental</tspan><tspan x="4346" dy="17">process</tspan></text></g>
<g id="rcsa"><rect class="o" x="4482" y="521.5" width="116" height="63"/><text x="4540" y="540.5">regulation<tspan x="4540" dy="17">of cell-substrate</tspan><tspan x="4540" dy="17">adhesion</tspan></text></g>
<g id="nrcp"><rect class="y" x="4624" y="513" width="82" height="80"/><text x="4665" y="532">negative<tspan x="4665" dy="17">regulation</tspan><tspan x="4665" dy="17">of cellular</tspan><tspan x="4665" dy="17">process</tspan></text></g>
<g id="rccm"><rect class="o" x="4731" y="513" width="90" height="80"/><text x="4776" y="532">regulation<tspan x="4776" dy="17">of cellular</tspan><tspan x="4776" dy="17">component</tspan><tspan x="4776" dy="17">movement</tspan></text></g>
<g id="rcprol"><rect class="o" x="4844.5" y="529.5" width="125" height="47"/><text x="4907" y="549">regulation<tspan x="4907" dy="17">of cell proliferation</tspan></text></g>
<g id="prcp"><rect class="w" x="5045" y="513" width="82" height="80"/><text x="5086" y="532">positive<tspan x="5086" dy="17">regulation</tspan><tspan x="5086" dy="17">of cellular</tspan><tspan x="5086" dy="17">process</tspan></text></g>
<g id="prsig"><rect class="y" x="5152" y="521.5" width="84" height="63"/><text x="5194" y="540.5">positive<tspan x="5194" dy="17">regulation</tspan><tspan x="5194" dy="17">of signaling</tspan></text></g>
<g id="rccom"><rect class="y" x="5261" y="529.5" width="146" height="47"/><text x="5334" y="549">regulation<tspan x="5334" dy="17">of cell communication</tspan></text></g>
<g id="rmmp"><rect class="w" x="5540.5" y="513" width="127" height="80"/><text x="5604" y="532">regulation<tspan x="5604" dy="17">of macromolecule</tspan><tspan x="5604" dy="17">metabolic</tspan><tspan x="5604" dy="17">process</tspan></text></g>
<g id="rncmp"><rect class="w" x="5692.5" y="504.5" width="85" height="97"/><text x="5735" y="523.5">regulation<tspan x="5735" dy="17">of nitrogen</tspan><tspan x="5735" dy="17">compound</tspan><tspan x="5735" dy="17">metabolic</tspan><tspan x="5735" dy="17">process</tspan></text></g>
<g id="rcmp"><rect class="w" x="5802.5" y="513" width="81" height="80"/><text x="5843" y="532">regulation<tspan x="5843" dy="17">of cellular</tspan><tspan x="5843" dy="17">metabolic</tspan><tspan x="5843" dy="17">process</tspan></text></g>
<g id="prmp"><rect class="w" x="5909" y="513" width="96" height="80"/><text x="5957" y="532">positive<tspan x="5957" dy="17">regulation</tspan><tspan x="5957" dy="17">of metabolic</tspan><tspan x="5957" dy="17">process</tspan></text></g>
<g id="rpmp"><rect class="w" x="6029" y="513" width="82" height="80"/><text x="6070" y="532">regulation<tspan x="6070" dy="17">of primary</tspan><tspan x="6070" dy="17">metabolic</tspan><tspan x="6070" dy="17">process</tspan></text></g>
<g id="rmf"><rect class="w" x="6135" y="521.5" width="96" height="63"/><text x="6183" y="540.5">regulation<tspan x="6183" dy="17">of molecular</tspan><tspan x="6183" dy="17">function</tspan></text></g>
<g id="btd"><rect class="y" x="6256" y="529.5" width="132" height="47"/><text x="6322" y="549">biomineral<tspan x="6322" dy="17">tissue development</tspan></text></g>
<g id="lungd"><rect class="y" x="6412" y="529.5" width="122" height="47"/><text x="6473" y="557.5">lung development</text></g>
<g id="odon"><rect class="y" x="6559.5" y="529.5" width="107" height="47"/><text x="6613" y="557.5">odontogenesis</text></g>
<g id="ssm"><rect class="w" x="6689.5" y="529.5" width="157" height="47"/><text x="6768" y="549">skeletal<tspan x="6768" dy="17">system morphogenesis</tspan></text></g>
<g id="eom"><rect class="w" x="6871.5" y="529.5" width="147" height="47"/><text x="6945" y="549">embryonic<tspan x="6945" dy="17">organ morphogenesis</tspan></text></g>
<g id="eam"><rect class="y" x="7042" y="521.5" width="110" height="63"/><text x="7097" y="540.5">embryonic<tspan x="7097" dy="17">appendage</tspan><tspan x="7097" dy="17">morphogenesis</tspan></text></g>
<g id="limbm"><rect class="y" x="7174" y="529.5" width="140" height="47"/><text x="7244" y="557.5">limb morphogenesis</text></g>
<g id="pac"><rect class="o" x="152.5" y="683.5" width="121" height="47"/><text x="213" y="703">protein activation<tspan x="213" dy="17">cascade</tspan></text></g>
<g id="crtonc"><rect class="w" x="300" y="667" width="124" height="80"/><text x="362" y="686">cellular<tspan x="362" dy="17">response</tspan><tspan x="362" dy="17">to organonitrogen</tspan><tspan x="362" dy="17">compound</tspan></text></g>
<g id="rtaa"><rect class="w" x="665.5" y="683.5" width="97" height="47"/><text x="714" y="703">response<tspan x="714" dy="17">to amino acid</tspan></text></g>
<g id="gagmp"><rect class="y" x="1108.5" y="675.5" width="133" height="63"/><text x="1175" y="694.5">glycosaminoglycan<tspan x="1175" dy="17">metabolic</tspan><tspan x="1175" dy="17">process</tspan></text></g>
<g id="agcp"><rect class="y" x="1267.5" y="675.5" width="97" height="63"/><text x="1316" y="694.5">aminoglycan<tspan x="1316" dy="17">catabolic</tspan><tspan x="1316" dy="17">process</tspan></text></g>
<g id="ir"><rect class="w" x="1643.5" y="683.5" width="123" height="47"/><text x="1705" y="711.5">immune response</text></g>
<g id="ema"><rect class="y" x="1792.5" y="683.5" width="117" height="47"/><text x="1851" y="703">extracellular<tspan x="1851" dy="17">matrix assembly</tspan></text></g>
<g id="cfo"><rect class="or" x="1934.5" y="683.5" width="117" height="47"/><text x="1993" y="703">collagen<tspan x="1993" dy="17">fibril organization</tspan></text></g>
<g id="met"><rect class="w" x="2227.5" y="675.5" width="107" height="63"/><text x="2281" y="694.5">mesenchymal<tspan x="2281" dy="17">to epithelial</tspan><tspan x="2281" dy="17">transition</tspan></text></g>
<g id="ecdikd"><rect class="w" x="2358.5" y="658.5" width="125" height="97"/><text x="2421" y="677.5">epithelial<tspan x="2421" dy="17">cell differentiation</tspan><tspan x="2421" dy="17">involved</tspan><tspan x="2421" dy="17">in kidney</tspan><tspan x="2421" dy="17">development</tspan></text></g>
<g id="cdimd"><rect class="w" x="2507" y="667" width="126" height="80"/><text x="2570" y="686">cell differentiation<tspan x="2570" dy="17">involved</tspan><tspan x="2570" dy="17">in metanephros</tspan><tspan x="2570" dy="17">development</tspan></text></g>
<g id="prir"><rect class="w" x="2757.5" y="667" width="85" height="80"/><text x="2800" y="686">positive<tspan x="2800" dy="17">regulation</tspan><tspan x="2800" dy="17">of immune</tspan><tspan x="2800" dy="17">response</tspan></text></g>
<g id="ist"><rect class="w" x="2866.5" y="683.5" width="131" height="47"/><text x="2932" y="703">intracellular<tspan x="2932" dy="17">signal transduction</tspan></text></g>
<g id="rrw"><rect class="w" x="3021.5" y="675.5" width="93" height="63"/><text x="3068" y="694.5">regulation<tspan x="3068" dy="17">of response</tspan><tspan x="3068" dy="17">to wounding</tspan></text></g>
<g id="nrrs"><rect class="y" x="3139" y="667" width="94" height="80"/><text x="3186" y="686">negative<tspan x="3186" dy="17">regulation</tspan><tspan x="3186" dy="17">of response</tspan><tspan x="3186" dy="17">to stimulus</tspan></text></g>
<g id="rdr"><rect class="y" x="3256" y="675.5" width="86" height="63"/><text x="3299" y="694.5">regulation<tspan x="3299" dy="17">of defense</tspan><tspan x="3299" dy="17">response</tspan></text></g>
<g id="rres"><rect class="o" x="3366" y="667" width="94" height="80"/><text x="3413" y="686">regulation<tspan x="3413" dy="17">of response</tspan><tspan x="3413" dy="17">to external</tspan><tspan x="3413" dy="17">stimulus</tspan></text></g>
<g id="ross"><rect class="w" x="3737" y="683.5" width="100" height="47"/><text x="3787" y="703">regulation<tspan x="3787" dy="17">of ossification</tspan></text></g>
<g id="rbtd"><rect class="y" x="3862.5" y="675.5" width="133" height="63"/><text x="3929" y="694.5">regulation<tspan x="3929" dy="17">of biomineral</tspan><tspan x="3929" dy="17">tissue development</tspan></text></g>
<g id="prlocom"><rect class="y" x="4018.5" y="675.5" width="99" height="63"/><text x="4068" y="694.5">positive<tspan x="4068" dy="17">regulation</tspan><tspan x="4068" dy="17">of locomotion</tspan></text></g>
<g id="rcmot"><rect class="o" x="4142" y="683.5" width="100" height="47"/><text x="4192" y="703">regulation<tspan x="4192" dy="17">of cell motility</tspan></text></g>
<g id="rasm"><rect class="w" x="4268" y="667" width="108" height="80"/><text x="4322" y="686">regulation<tspan x="4322" dy="17">of anatomical</tspan><tspan x="4322" dy="17">structure</tspan><tspan x="4322" dy="17">morphogenesis</tspan></text></g>
<g id="rvd"><rect class="y" x="4399.5" y="675.5" width="105" height="63"/><text x="4452" y="694.5">regulation<tspan x="4452" dy="17">of vasculature</tspan><tspan x="4452" dy="17">development</tspan></text></g>
<g id="prmop"><rect class="y" x="4631" y="658.5" width="108" height="97"/><text x="4685" y="677.5">positive<tspan x="4685" dy="17">regulation</tspan><tspan x="4685" dy="17">of multicellular</tspan><tspan x="4685" dy="17">organismal</tspan><tspan x="4685" dy="17">process</tspan></text></g>
<g id="nrcprol"><rect class="y" x="4762.5" y="675.5" width="125" height="63"/><text x="4825" y="694.5">negative<tspan x="4825" dy="17">regulation</tspan><tspan x="4825" dy="17">of cell proliferation</tspan></text></g>
<g id="prccm"><rect class="y" x="4911.5" y="658.5" width="91" height="97"/><text x="4957" y="677.5">positive<tspan x="4957" dy="17">regulation</tspan><tspan x="4957" dy="17">of cellular</tspan><tspan x="4957" dy="17">component</tspan><tspan x="4957" dy="17">movement</tspan></text></g>
<g id="prcprol"><rect class="y" x="5027" y="675.5" width="126" height="63"/><text x="5090" y="694.5">positive<tspan x="5090" dy="17">regulation</tspan><tspan x="5090" dy="17">of cell proliferation</tspan></text></g>
<g id="prccom"><rect class="y" x="5227.5" y="675.5" width="147" height="63"/><text x="5301" y="694.5">positive<tspan x="5301" dy="17">regulation</tspan><tspan x="5301" dy="17">of cell communication</tspan></text></g>
<g id="rstr"><rect class="y" x="5397.5" y="675.5" width="93" height="63"/><text x="5444" y="694.5">regulation<tspan x="5444" dy="17">of signal</tspan><tspan x="5444" dy="17">transduction</tspan></text></g>
<g id="rge"><rect class="w" x="5516" y="683.5" width="130" height="47"/><text x="5581" y="703">regulation<tspan x="5581" dy="17">of gene expression</tspan></text></g>
<g id="rprotmp"><rect class="y" x="5670" y="667" width="82" height="80"/><text x="5711" y="686">regulation<tspan x="5711" dy="17">of protein</tspan><tspan x="5711" dy="17">metabolic</tspan><tspan x="5711" dy="17">process</tspan></text></g>
<g id="prcmp"><rect class="y" x="5826.5" y="658.5" width="83" height="97"/><text x="5868" y="677.5">positive<tspan x="5868" dy="17">regulation</tspan><tspan x="5868" dy="17">of cellular</tspan><tspan x="5868" dy="17">metabolic</tspan><tspan x="5868" dy="17">process</tspan></text></g>
<g id="prmmp"><rect class="w" x="5934.5" y="658.5" width="127" height="97"/><text x="5998" y="677.5">positive<tspan x="5998" dy="17">regulation</tspan><tspan x="5998" dy="17">of macromolecule</tspan><tspan x="5998" dy="17">metabolic</tspan><tspan x="5998" dy="17">process</tspan></text></g>
<g id="prncmp"><rect class="y" x="6085.5" y="650" width="85" height="114"/><text x="6128" y="669">positive<tspan x="6128" dy="17">regulation</tspan><tspan x="6128" dy="17">of nitrogen</tspan><tspan x="6128" dy="17">compound</tspan><tspan x="6128" dy="17">metabolic</tspan><tspan x="6128" dy="17">process</tspan></text></g>
<g id="rphmp"><rect class="w" x="6194" y="667" width="108" height="80"/><text x="6248" y="686">regulation<tspan x="6248" dy="17">of phosphorus</tspan><tspan x="6248" dy="17">metabolic</tspan><tspan x="6248" dy="17">process</tspan></text></g>
<g id="rcata"><rect class="w" x="6559" y="675.5" width="88" height="63"/><text x="6603" y="694.5">regulation<tspan x="6603" dy="17">of catalytic</tspan><tspan x="6603" dy="17">activity</tspan></text></g>
<g id="prmf"><rect class="w" x="6686" y="667" width="96" height="80"/><text x="6734" y="686">positive<tspan x="6734" dy="17">regulation</tspan><tspan x="6734" dy="17">of molecular</tspan><tspan x="6734" dy="17">function</tspan></text></g>
<g id="essm"><rect class="w" x="6813.5" y="675.5" width="157" height="63"/><text x="6892" y="694.5">embryonic<tspan x="6892" dy="17">skeletal</tspan><tspan x="6892" dy="17">system morphogenesis</tspan></text></g>
<g id="edtm"><rect class="y" x="6994.5" y="675.5" width="139" height="63"/><text x="7064" y="694.5">embryonic<tspan x="7064" dy="17">digestive</tspan><tspan x="7064" dy="17">tract morphogenesis</tspan></text></g>
<g id="elm"><rect class="y" x="7161.5" y="683.5" width="139" height="47"/><text x="7231" y="703">embryonic<tspan x="7231" dy="17">limb morphogenesis</tspan></text></g>
<g id="bcfcf"><rect class="y" x="149" y="838.5" width="130" height="63"/><text x="214" y="857.5">blood coagulation,<tspan x="214" dy="17">fibrin clot</tspan><tspan x="214" dy="17">formation</tspan></text></g>
<g id="crtaas"><rect class="y" x="616.5" y="830" width="103" height="80"/><text x="668" y="849">cellular<tspan x="668" dy="17">response</tspan><tspan x="668" dy="17">to amino acid</tspan><tspan x="668" dy="17">stimulus</tspan></text></g>
<g id="gagcp"><rect class="o" x="1178" y="838.5" width="136" height="63"/><text x="1246" y="857.5">glycosaminoglycan<tspan x="1246" dy="17">catabolic</tspan><tspan x="1246" dy="17">process</tspan></text></g>
<g id="hir"><rect class="w" x="1674" y="846.5" width="122" height="47"/><text x="1735" y="866">humoral immune<tspan x="1735" dy="17">response</tspan></text></g>
<g id="efa"><rect class="y" x="1826.5" y="846.5" width="91" height="47"/><text x="1872" y="866">elastic fiber<tspan x="1872" dy="17">assembly</tspan></text></g>
<g id="iep"><rect class="w" x="1964" y="846.5" width="116" height="47"/><text x="2022" y="866">immune effector<tspan x="2022" dy="17">process</tspan></text></g>
<g id="air"><rect class="w" x="2147.5" y="838.5" width="85" height="63"/><text x="2190" y="857.5">activation<tspan x="2190" dy="17">of immune</tspan><tspan x="2190" dy="17">response</tspan></text></g>
<g id="metmm"><rect class="y" x="2362.5" y="813" width="115" height="114"/><text x="2420" y="832">mesenchymal<tspan x="2420" dy="17">to epithelial</tspan><tspan x="2420" dy="17">transition</tspan><tspan x="2420" dy="17">involved</tspan><tspan x="2420" dy="17">in metanephros</tspan><tspan x="2420" dy="17">morphogenesis</tspan></text></g>
<g id="ilms"><rect class="y" x="2772" y="838.5" width="106" height="63"/><text x="2825" y="857.5">inositol<tspan x="2825" dy="17">lipid-mediated</tspan><tspan x="2825" dy="17">signaling</tspan></text></g>
<g id="nrrw"><rect class="y" x="2901.5" y="830" width="93" height="80"/><text x="2948" y="849">negative<tspan x="2948" dy="17">regulation</tspan><tspan x="2948" dy="17">of response</tspan><tspan x="2948" dy="17">to wounding</tspan></text></g>
<g id="nrdr"><rect class="y" x="3020" y="830" width="84" height="80"/><text x="3062" y="849">negative<tspan x="3062" dy="17">regulation</tspan><tspan x="3062" dy="17">of defense</tspan><tspan x="3062" dy="17">response</tspan></text></g>
<g id="nrres"><rect class="y" x="3129.5" y="821.5" width="93" height="97"/><text x="3176" y="840.5">negative<tspan x="3176" dy="17">regulation</tspan><tspan x="3176" dy="17">of response</tspan><tspan x="3176" dy="17">to external</tspan><tspan x="3176" dy="17">stimulus</tspan></text></g>
<g id="rinf"><rect class="y" x="3246" y="838.5" width="114" height="63"/><text x="3303" y="857.5">regulation<tspan x="3303" dy="17">of inflammatory</tspan><tspan x="3303" dy="17">response</tspan></text></g>
<g id="prres"><rect class="w" x="3384.5" y="821.5" width="93" height="97"/><text x="3431" y="840.5">positive<tspan x="3431" dy="17">regulation</tspan><tspan x="3431" dy="17">of response</tspan><tspan x="3431" dy="17">to external</tspan><tspan x="3431" dy="17">stimulus</tspan></text></g>
<g id="rpac"><rect class="o" x="3502.5" y="830" width="83" height="80"/><text x="3544" y="849">regulation<tspan x="3544" dy="17">of protein</tspan><tspan x="3544" dy="17">activation</tspan><tspan x="3544" dy="17">cascade</tspan></text></g>
<g id="rchem"><rect class="w" x="3609" y="846.5" width="100" height="47"/><text x="3659" y="866">regulation<tspan x="3659" dy="17">of chemotaxis</tspan></text></g>
<g id="rbm"><rect class="y" x="3834.5" y="846.5" width="147" height="47"/><text x="3908" y="866">regulation<tspan x="3908" dy="17">of bone mineralization</tspan></text></g>
<g id="rcmig"><rect class="o" x="4057" y="846.5" width="112" height="47"/><text x="4113" y="866">regulation<tspan x="4113" dy="17">of cell migration</tspan></text></g>
<g id="prcmot"><rect class="y" x="4192" y="838.5" width="102" height="63"/><text x="4243" y="857.5">positive<tspan x="4243" dy="17">regulation</tspan><tspan x="4243" dy="17">of cell motility</tspan></text></g>
<g id="rang"><rect class="o" x="4397" y="846.5" width="112" height="47"/><text x="4453" y="866">regulation<tspan x="4453" dy="17">of angiogenesis</tspan></text></g>
<g id="prvd"><rect class="y" x="4537" y="830" width="104" height="80"/><text x="4589" y="849">positive<tspan x="4589" dy="17">regulation</tspan><tspan x="4589" dy="17">of vasculature</tspan><tspan x="4589" dy="17">development</tspan></text></g>
<g id="prstr"><rect class="y" x="5144.5" y="830" width="93" height="80"/><text x="5191" y="849">positive<tspan x="5191" dy="17">regulation</tspan><tspan x="5191" dy="17">of signal</tspan><tspan x="5191" dy="17">transduction</tspan></text></g>
<g id="rpm"><rect class="y" x="5266.5" y="838.5" width="83" height="63"/><text x="5308" y="857.5">regulation<tspan x="5308" dy="17">of protein</tspan><tspan x="5308" dy="17">maturation</tspan></text></g>
<g id="rist"><rect class="y" x="5374.5" y="838.5" width="131" height="63"/><text x="5440" y="857.5">regulation<tspan x="5440" dy="17">of intracellular</tspan><tspan x="5440" dy="17">signal transduction</tspan></text></g>
<g id="rprot"><rect class="y" x="5604.5" y="846.5" width="99" height="47"/><text x="5654" y="866">regulation<tspan x="5654" dy="17">of proteolysis</tspan></text></g>
<g id="rcpmp"><rect class="y" x="5728" y="830" width="124" height="80"/><text x="5790" y="849">regulation<tspan x="5790" dy="17">of cellular</tspan><tspan x="5790" dy="17">protein metabolic</tspan><tspan x="5790" dy="17">process</tspan></text></g>
<g id="prprotmp"><rect class="y" x="5948" y="821.5" width="82" height="97"/><text x="5989" y="840.5">positive<tspan x="5989" dy="17">regulation</tspan><tspan x="5989" dy="17">of protein</tspan><tspan x="5989" dy="17">metabolic</tspan><tspan x="5989" dy="17">process</tspan></text></g>
<g id="prphmp"><rect class="w" x="6069" y="821.5" width="106" height="97"/><text x="6122" y="840.5">positive<tspan x="6122" dy="17">regulation</tspan><tspan x="6122" dy="17">of phosphorus</tspan><tspan x="6122" dy="17">metabolic</tspan><tspan x="6122" dy="17">process</tspan></text></g>
<g id="rphosmp"><rect class="w" x="6199.5" y="830" width="97" height="80"/><text x="6248" y="849">regulation<tspan x="6248" dy="17">of phosphate</tspan><tspan x="6248" dy="17">metabolic</tspan><tspan x="6248" dy="17">process</tspan></text></g>
<g id="rlmp"><rect class="w" x="6394" y="838.5" width="122" height="63"/><text x="6455" y="857.5">regulation<tspan x="6455" dy="17">of lipid metabolic</tspan><tspan x="6455" dy="17">process</tspan></text></g>
<g id="rta"><rect class="w" x="6543" y="838.5" width="104" height="63"/><text x="6595" y="857.5">regulation<tspan x="6595" dy="17">of transferase</tspan><tspan x="6595" dy="17">activity</tspan></text></g>
<g id="rha"><rect class="w" x="6671.5" y="838.5" width="93" height="63"/><text x="6718" y="857.5">regulation<tspan x="6718" dy="17">of hydrolase</tspan><tspan x="6718" dy="17">activity</tspan></text></g>
<g id="prcata"><rect class="w" x="6791" y="830" width="88" height="80"/><text x="6835" y="849">positive<tspan x="6835" dy="17">regulation</tspan><tspan x="6835" dy="17">of catalytic</tspan><tspan x="6835" dy="17">activity</tspan></text></g>
<g id="ecsm"><rect class="y" x="6903.5" y="838.5" width="117" height="63"/><text x="6962" y="857.5">embryonic<tspan x="6962" dy="17">cranial skeleton</tspan><tspan x="6962" dy="17">morphogenesis</tspan></text></g>
<g id="ca"><rect class="y" x="1831" y="1000.5" width="96" height="47"/><text x="1879" y="1020">complement<tspan x="1879" dy="17">activation</tspan></text></g>
<g id="riep"><rect class="y" x="2713.5" y="984" width="85" height="80"/><text x="2756" y="1003">regulation<tspan x="2756" dy="17">of immune</tspan><tspan x="2756" dy="17">effector</tspan><tspan x="2756" dy="17">process</tspan></text></g>
<g id="rhir"><rect class="y" x="2908.5" y="992.5" width="125" height="63"/><text x="2971" y="1011.5">regulation<tspan x="2971" dy="17">of humoral</tspan><tspan x="2971" dy="17">immune response</tspan></text></g>
<g id="rair"><rect class="y" x="3228.5" y="992.5" width="149" height="63"/><text x="3303" y="1011.5">regulation<tspan x="3303" dy="17">of acute inflammatory</tspan><tspan x="3303" dy="17">response</tspan></text></g>
<g id="prchem"><rect class="w" x="3674.5" y="992.5" width="101" height="63"/><text x="3725" y="1011.5">positive<tspan x="3725" dy="17">regulation</tspan><tspan x="3725" dy="17">of chemotaxis</tspan></text></g>
<g id="rcc_fgf"><rect class="y" x="3799.5" y="984" width="131" height="80"/><text x="3865" y="1003">regulation<tspan x="3865" dy="17">of cell chemotaxis</tspan><tspan x="3865" dy="17">to fibroblast</tspan><tspan x="3865" dy="17">growth factor</tspan></text></g>
<g id="recm"><rect class="w" x="3954" y="992.5" width="100" height="63"/><text x="4004" y="1011.5">regulation<tspan x="4004" dy="17">of epithelial</tspan><tspan x="4004" dy="17">cell migration</tspan></text></g>
<g id="prcmig"><rect class="y" x="4080.5" y="992.5" width="113" height="63"/><text x="4137" y="1011.5">positive<tspan x="4137" dy="17">regulation</tspan><tspan x="4137" dy="17">of cell migration</tspan></text></g>
<g id="prang"><rect class="y" x="4464.5" y="992.5" width="111" height="63"/><text x="4520" y="1011.5">positive<tspan x="4520" dy="17">regulation</tspan><tspan x="4520" dy="17">of angiogenesis</tspan></text></g>
<g id="rpp"><rect class="y" x="4958.5" y="992.5" width="85" height="63"/><text x="5001" y="1011.5">regulation<tspan x="5001" dy="17">of protein</tspan><tspan x="5001" dy="17">processing</tspan></text></g>
<g id="prist"><rect class="y" x="5119" y="984" width="130" height="80"/><text x="5184" y="1003">positive<tspan x="5184" dy="17">regulation</tspan><tspan x="5184" dy="17">of intracellular</tspan><tspan x="5184" dy="17">signal transduction</tspan></text></g>
<g id="rpi3ks"><rect class="w" x="5273.5" y="984" width="155" height="80"/><text x="5351" y="1003">regulation<tspan x="5351" dy="17">of phosphatidylinositol</tspan><tspan x="5351" dy="17">3-kinase</tspan><tspan x="5351" dy="17">signaling</tspan></text></g>
<g id="rpkbs"><rect class="w" x="5452.5" y="992.5" width="129" height="63"/><text x="5517" y="1011.5">regulation<tspan x="5517" dy="17">of protein</tspan><tspan x="5517" dy="17">kinase B signaling</tspan></text></g>
<g id="rpmod"><rect class="w" x="5603.5" y="984" width="93" height="80"/><text x="5650" y="1003">regulation<tspan x="5650" dy="17">of protein</tspan><tspan x="5650" dy="17">modification</tspan><tspan x="5650" dy="17">process</tspan></text></g>
<g id="rpepa"><rect class="y" x="5721.5" y="992.5" width="97" height="63"/><text x="5770" y="1011.5">regulation<tspan x="5770" dy="17">of peptidase</tspan><tspan x="5770" dy="17">activity</tspan></text></g>
<g id="prcpmp"><rect class="y" x="5841.5" y="975.5" width="125" height="97"/><text x="5904" y="994.5">positive<tspan x="5904" dy="17">regulation</tspan><tspan x="5904" dy="17">of cellular</tspan><tspan x="5904" dy="17">protein metabolic</tspan><tspan x="5904" dy="17">process</tspan></text></g>
<g id="rphos"><rect class="w" x="5992.5" y="1000.5" width="125" height="47"/><text x="6055" y="1020">regulation<tspan x="6055" dy="17">of phosphorylation</tspan></text></g>
<g id="prphosmp"><rect class="w" x="6141" y="975.5" width="98" height="97"/><text x="6190" y="994.5">positive<tspan x="6190" dy="17">regulation</tspan><tspan x="6190" dy="17">of phosphate</tspan><tspan x="6190" dy="17">metabolic</tspan><tspan x="6190" dy="17">process</tspan></text></g>
<g id="prlmp"><rect class="w" x="6264" y="984" width="122" height="80"/><text x="6325" y="1003">positive<tspan x="6325" dy="17">regulation</tspan><tspan x="6325" dy="17">of lipid metabolic</tspan><tspan x="6325" dy="17">process</tspan></text></g>
<g id="rplmp"><rect class="w" x="6411.5" y="984" width="111" height="80"/><text x="6467" y="1003">regulation<tspan x="6467" dy="17">of phospholipid</tspan><tspan x="6467" dy="17">metabolic</tspan><tspan x="6467" dy="17">process</tspan></text></g>
<g id="prta"><rect class="w" x="6647" y="984" width="104" height="80"/><text x="6699" y="1003">positive<tspan x="6699" dy="17">regulation</tspan><tspan x="6699" dy="17">of transferase</tspan><tspan x="6699" dy="17">activity</tspan></text></g>
<g id="rlipa"><rect class="y" x="6776" y="992.5" width="82" height="63"/><text x="6817" y="1011.5">regulation<tspan x="6817" dy="17">of lipase</tspan><tspan x="6817" dy="17">activity</tspan></text></g>
<g id="prha"><rect class="w" x="6882" y="984" width="96" height="80"/><text x="6930" y="1003">positive<tspan x="6930" dy="17">regulation</tspan><tspan x="6930" dy="17">of hydrolase</tspan><tspan x="6930" dy="17">activity</tspan></text></g>
<g id="cacp"><rect class="y" x="1831" y="1132" width="96" height="80"/><text x="1879" y="1151">complement<tspan x="1879" dy="17">activation,</tspan><tspan x="1879" dy="17">classical</tspan><tspan x="1879" dy="17">pathway</tspan></text></g>
<g id="rcompa"><rect class="o" x="3248" y="1140.5" width="110" height="63"/><text x="3303" y="1159.5">regulation<tspan x="3303" dy="17">of complement</tspan><tspan x="3303" dy="17">activation</tspan></text></g>
<g id="recmig"><rect class="w" x="3808.5" y="1140.5" width="101" height="63"/><text x="3859" y="1159.5">regulation<tspan x="3859" dy="17">of endothelial</tspan><tspan x="3859" dy="17">cell migration</tspan></text></g>
<g id="prcc_fgf"><rect class="y" x="3934.5" y="1123.5" width="131" height="97"/><text x="4000" y="1142.5">positive<tspan x="4000" dy="17">regulation</tspan><tspan x="4000" dy="17">of cell chemotaxis</tspan><tspan x="4000" dy="17">to fibroblast</tspan><tspan x="4000" dy="17">growth factor</tspan></text></g>
<g id="precm"><rect class="w" x="4088.5" y="1132" width="99" height="80"/><text x="4138" y="1151">positive<tspan x="4138" dy="17">regulation</tspan><tspan x="4138" dy="17">of epithelial</tspan><tspan x="4138" dy="17">cell migration</tspan></text></g>
<g id="prpi3ks"><rect class="y" x="5249" y="1123.5" width="154" height="97"/><text x="5326" y="1142.5">positive<tspan x="5326" dy="17">regulation</tspan><tspan x="5326" dy="17">of phosphatidylinositol</tspan><tspan x="5326" dy="17">3-kinase</tspan><tspan x="5326" dy="17">signaling</tspan></text></g>
<g id="prpkbs"><rect class="y" x="5438" y="1132" width="128" height="80"/><text x="5502" y="1151">positive<tspan x="5502" dy="17">regulation</tspan><tspan x="5502" dy="17">of protein</tspan><tspan x="5502" dy="17">kinase B signaling</tspan></text></g>
<g id="rpphos"><rect class="y" x="5596" y="1140.5" width="112" height="63"/><text x="5652" y="1159.5">regulation<tspan x="5652" dy="17">of protein</tspan><tspan x="5652" dy="17">phosphorylation</tspan></text></g>
<g id="prpmod"><rect class="y" x="5731" y="1123.5" width="94" height="97"/><text x="5778" y="1142.5">positive<tspan x="5778" dy="17">regulation</tspan><tspan x="5778" dy="17">of protein</tspan><tspan x="5778" dy="17">modification</tspan><tspan x="5778" dy="17">process</tspan></text></g>
<g id="prphos"><rect class="y" x="6035" y="1140.5" width="124" height="63"/><text x="6097" y="1159.5">positive<tspan x="6097" dy="17">regulation</tspan><tspan x="6097" dy="17">of phosphorylation</tspan></text></g>
<g id="prplmp"><rect class="w" x="6221" y="1123.5" width="112" height="97"/><text x="6277" y="1142.5">positive<tspan x="6277" dy="17">regulation</tspan><tspan x="6277" dy="17">of phospholipid</tspan><tspan x="6277" dy="17">metabolic</tspan><tspan x="6277" dy="17">process</tspan></text></g>
<g id="rka"><rect class="w" x="6422.5" y="1140.5" width="83" height="63"/><text x="6464" y="1159.5">regulation<tspan x="6464" dy="17">of kinase</tspan><tspan x="6464" dy="17">activity</tspan></text></g>
<g id="rpla"><rect class="y" x="6741.5" y="1140.5" width="123" height="63"/><text x="6803" y="1159.5">regulation<tspan x="6803" dy="17">of phospholipase</tspan><tspan x="6803" dy="17">activity</tspan></text></g>
<g id="prlipa"><rect class="y" x="6889" y="1132" width="82" height="80"/><text x="6930" y="1151">positive<tspan x="6930" dy="17">regulation</tspan><tspan x="6930" dy="17">of lipase</tspan><tspan x="6930" dy="17">activity</tspan></text></g>
<g id="recc"><rect class="w" x="3674.5" y="1279.5" width="111" height="63"/><text x="3730" y="1298.5">regulation<tspan x="3730" dy="17">of endothelial</tspan><tspan x="3730" dy="17">cell chemotaxis</tspan></text></g>
<g id="precmig"><rect class="w" x="3859.5" y="1271" width="103" height="80"/><text x="3911" y="1290">positive<tspan x="3911" dy="17">regulation</tspan><tspan x="3911" dy="17">of endothelial</tspan><tspan x="3911" dy="17">cell migration</tspan></text></g>
<g id="rmapk"><rect class="o" x="5032" y="1287.5" width="126" height="47"/><text x="5095" y="1307">regulation<tspan x="5095" dy="17">of MAPK cascade</tspan></text></g>
<g id="prpphos"><rect class="y" x="5658" y="1271" width="112" height="80"/><text x="5714" y="1290">positive<tspan x="5714" dy="17">regulation</tspan><tspan x="5714" dy="17">of protein</tspan><tspan x="5714" dy="17">phosphorylation</tspan></text></g>
<g id="prka"><rect class="w" x="6408" y="1271" width="82" height="80"/><text x="6449" y="1290">positive<tspan x="6449" dy="17">regulation</tspan><tspan x="6449" dy="17">of kinase</tspan><tspan x="6449" dy="17">activity</tspan></text></g>
<g id="rlka"><rect class="w" x="6513.5" y="1279.5" width="103" height="63"/><text x="6565" y="1298.5">regulation<tspan x="6565" dy="17">of lipid kinase</tspan><tspan x="6565" dy="17">activity</tspan></text></g>
<g id="rplca"><rect class="o" x="6722" y="1279.5" width="122" height="63"/><text x="6783" y="1298.5">regulation<tspan x="6783" dy="17">of phospholipase</tspan><tspan x="6783" dy="17">C activity</tspan></text></g>
<g id="prpla"><rect class="o" x="6869" y="1271" width="122" height="80"/><text x="6930" y="1290">positive<tspan x="6930" dy="17">regulation</tspan><tspan x="6930" dy="17">of phospholipase</tspan><tspan x="6930" dy="17">activity</tspan></text></g>
<g id="recc_fgf"><rect class="y" x="3648.5" y="1396.5" width="117" height="97"/><text x="3707" y="1415.5">regulation<tspan x="3707" dy="17">of endothelial</tspan><tspan x="3707" dy="17">cell chemotaxis</tspan><tspan x="3707" dy="17">to fibroblast</tspan><tspan x="3707" dy="17">growth factor</tspan></text></g>
<g id="precc"><rect class="w" x="3790" y="1405" width="112" height="80"/><text x="3846" y="1424">positive<tspan x="3846" dy="17">regulation</tspan><tspan x="3846" dy="17">of endothelial</tspan><tspan x="3846" dy="17">cell chemotaxis</tspan></text></g>
<g id="rerk"><rect class="y" x="5030.5" y="1413.5" width="109" height="63"/><text x="5085" y="1432.5">regulation<tspan x="5085" dy="17">of ERK1 and</tspan><tspan x="5085" dy="17">ERK2 cascade</tspan></text></g>
<g id="prmapk"><rect class="y" x="5163.5" y="1413.5" width="125" height="63"/><text x="5226" y="1432.5">positive<tspan x="5226" dy="17">regulation</tspan><tspan x="5226" dy="17">of MAPK cascade</tspan></text></g>
<g id="prlka"><rect class="y" x="6378" y="1405" width="104" height="80"/><text x="6430" y="1424">positive<tspan x="6430" dy="17">regulation</tspan><tspan x="6430" dy="17">of lipid kinase</tspan><tspan x="6430" dy="17">activity</tspan></text></g>
<g id="rpi3ka"><rect class="w" x="6506" y="1405" width="154" height="80"/><text x="6583" y="1424">regulation<tspan x="6583" dy="17">of phosphatidylinositol</tspan><tspan x="6583" dy="17">3-kinase</tspan><tspan x="6583" dy="17">activity</tspan></text></g>
<g id="prplca"><rect class="o" x="6795.5" y="1405" width="123" height="80"/><text x="6857" y="1424">positive<tspan x="6857" dy="17">regulation</tspan><tspan x="6857" dy="17">of phospholipase</tspan><tspan x="6857" dy="17">C activity</tspan></text></g>
<g id="precc_fgf"><rect class="y" x="3787.5" y="1544" width="117" height="114"/><text x="3846" y="1563">positive<tspan x="3846" dy="17">regulation</tspan><tspan x="3846" dy="17">of endothelial</tspan><tspan x="3846" dy="17">cell chemotaxis</tspan><tspan x="3846" dy="17">to fibroblast</tspan><tspan x="3846" dy="17">growth factor</tspan></text></g>
<g id="prerk"><rect class="y" x="5101.5" y="1561" width="109" height="80"/><text x="5156" y="1580">positive<tspan x="5156" dy="17">regulation</tspan><tspan x="5156" dy="17">of ERK1 and</tspan><tspan x="5156" dy="17">ERK2 cascade</tspan></text></g>
<g id="prpi3ka"><rect class="y" x="6353" y="1552.5" width="154" height="97"/><text x="6430" y="1571.5">positive<tspan x="6430" dy="17">regulation</tspan><tspan x="6430" dy="17">of phosphatidylinositol</tspan><tspan x="6430" dy="17">3-kinase</tspan><tspan x="6430" dy="17">activity</tspan></text></g>
</svg>
